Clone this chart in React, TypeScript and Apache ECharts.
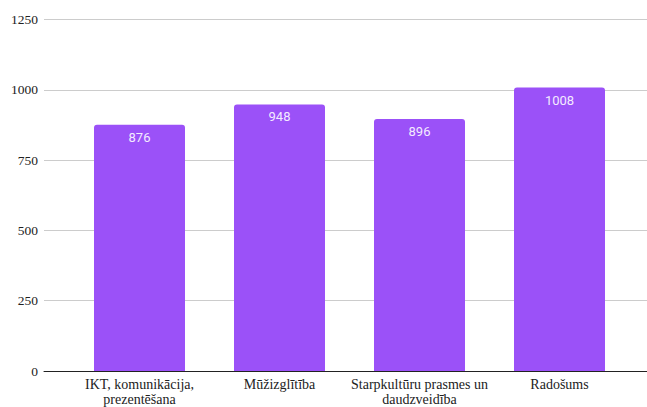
import React, { useEffect, useRef } from "react";
import * as echarts from "echarts";

const categories = [
  "IKT, komunikācija,\nprezentēšana",
  "Mūžizglītība",
  "Starpkultūru prasmes un\ndaudzveidība",
  "Radošums",
];
const values = [876, 948, 896, 1008];
const yTicks = { min: 0, max: 1250, interval: 250 };

export default function App() {
  const ref = useRef<HTMLDivElement>(null);
  useEffect(() => {
    if (!ref.current) return;
    const chart = echarts.init(ref.current, undefined, { renderer: "svg" });
    const top = 19.5;
    const bottom = 36;
    chart.setOption({
      animation: false,
      backgroundColor: "#ffffff",
      grid: [
        { left: 44, right: 0, top, bottom, containLabel: false },
        { left: 69.5, right: 17.5, top, bottom, containLabel: false },
      ],
      xAxis: [
        {
          gridIndex: 0,
          type: "value",
          min: 0,
          max: 1,
          axisLine: { show: true, lineStyle: { color: "#222", width: 1 } },
          axisTick: { show: false },
          axisLabel: { show: false },
          splitLine: { show: false },
        },
        {
          gridIndex: 1,
          type: "category",
          data: categories,
          axisLine: { show: false },
          axisTick: { show: false },
          axisLabel: {
            margin: 6,
            color: "#222",
            fontFamily: "Liberation Serif",
            fontSize: 14,
            lineHeight: 15,
            interval: 0,
          },
        },
      ],
      yAxis: [
        {
          gridIndex: 0,
          type: "value",
          min: yTicks.min,
          max: yTicks.max,
          interval: yTicks.interval,
          axisLine: { show: false },
          axisTick: { show: false },
          axisLabel: {
            margin: 6,
            color: "#222",
            fontFamily: "Liberation Serif",
            fontSize: 13.5,
            formatter: (v: number) => String(v),
          },
          splitLine: { show: true, lineStyle: { color: "#cccccc", width: 1 } },
        },
        {
          gridIndex: 1,
          type: "value",
          min: yTicks.min,
          max: yTicks.max,
          interval: yTicks.interval,
          show: false,
          splitLine: { show: false },
        },
      ],
      series: [
        {
          type: "bar",
          xAxisIndex: 1,
          yAxisIndex: 1,
          data: values,
          barWidth: 91,
          itemStyle: { color: "#9b51f8", borderRadius: [3, 3, 0, 0] },
          label: {
            show: true,
            position: "insideTop",
            distance: 6,
            color: "#f3ebff",
            fontFamily: "Roboto",
            fontSize: 13,
          },
        },
      ],
    });
    return () => chart.dispose();
  }, []);
  return (
    <div
      ref={ref}
      style={{ position: "fixed", top: 0, left: 0, width: 647, height: 407 }}
    />
  );
}
